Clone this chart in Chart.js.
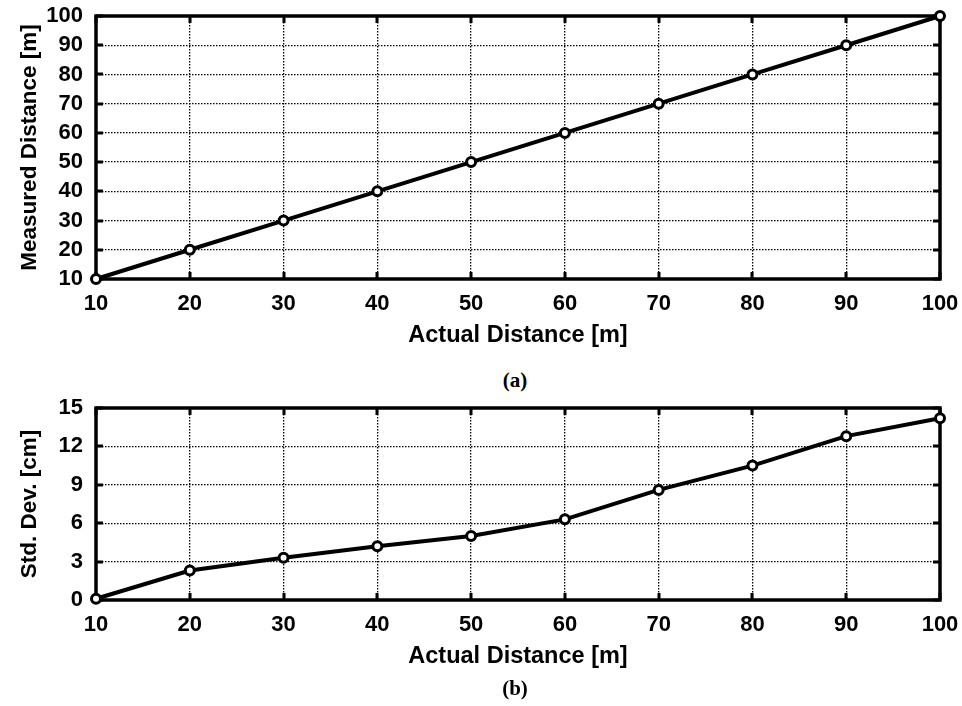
<!DOCTYPE html>
<html>
<head>
<meta charset="utf-8">
<script src="https://cdn.jsdelivr.net/npm/chart.js@4/dist/chart.umd.min.js"></script>
<style>
  html, body { margin: 0; padding: 0; background: #fff; }
  body { width: 962px; height: 706px; position: relative; overflow: hidden; }
  canvas { position: absolute; left: 0; }
  #c1 { top: 0; }
  #c2 { top: 392px; }
  .cap { position: absolute; left: 415px; width: 200px; text-align: center;
         font-family: "Liberation Serif", "DejaVu Serif", serif; font-weight: bold;
         font-size: 21px; line-height: 24px; color: #000; }
</style>
</head>
<body>
<canvas id="c1" width="962" height="359"></canvas>
<div class="cap" style="top:368px">(a)</div>
<canvas id="c2" width="962" height="288"></canvas>
<div class="cap" style="top:676px">(b)</div>
<script>
// ---- data ----
const actualDistance   = [10, 20, 30, 40, 50, 60, 70, 80, 90, 100];
const measuredDistance = [10, 20, 30, 40, 50, 60, 70, 80, 90, 100];
const stdDevCm         = [0.1, 2.3, 3.3, 4.2, 5.0, 6.3, 8.6, 10.5, 12.8, 14.2];
const xTickValues      = [10, 20, 30, 40, 50, 60, 70, 80, 90, 100];
const yTickValuesTop   = [10, 20, 30, 40, 50, 60, 70, 80, 90, 100];
const yTickValuesBot   = [0, 3, 6, 9, 12, 15];
const xTitle = "Actual Distance [m]";
const yTitleTop = "Measured Distance [m]";
const yTitleBot = "Std. Dev. [cm]";

const FONT = "'Liberation Sans', Arial, sans-serif";

const framePlugin = {
  id: 'frame',
  beforeDatasetsDraw(chart) {
    const {ctx, chartArea: a, scales} = chart;
    const L = 7;
    ctx.save();
    ctx.strokeStyle = '#000';
    ctx.lineWidth = 3;
    ctx.beginPath();
    scales.x.ticks.forEach(t => {
      const px = Math.round(scales.x.getPixelForValue(t.value));
      ctx.moveTo(px, a.bottom); ctx.lineTo(px, a.bottom - L);
      ctx.moveTo(px, a.top); ctx.lineTo(px, a.top + L);
    });
    scales.y.ticks.forEach(t => {
      const py = Math.round(scales.y.getPixelForValue(t.value));
      ctx.moveTo(a.left, py); ctx.lineTo(a.left + L, py);
      ctx.moveTo(a.right, py); ctx.lineTo(a.right - L, py);
    });
    ctx.stroke();
    ctx.lineWidth = 3.5;
    ctx.strokeRect(a.left, a.top, a.right - a.left, a.bottom - a.top);
    ctx.restore();
  }
};

function makeChart(id, yData, yTicks, yTitle) {
  return new Chart(document.getElementById(id), {
    type: 'line',
    data: {
      datasets: [{
        data: actualDistance.map((x, i) => ({x: x, y: yData[i]})),
        borderColor: '#000',
        borderWidth: 4,
        pointRadius: 4.5,
        pointBorderWidth: 3,
        pointBackgroundColor: '#fff',
        pointBorderColor: '#000',
        tension: 0,
        clip: false
      }]
    },
    options: {
      responsive: false,
      animation: false,
      devicePixelRatio: 1,
      layout: { padding: { top: 16, right: 22, left: 0, bottom: 0 } },
      plugins: { legend: { display: false }, tooltip: { enabled: false } },
      scales: {
        x: {
          type: 'linear',
          min: xTickValues[0], max: xTickValues[xTickValues.length - 1],
          afterBuildTicks: s => { s.ticks = xTickValues.map(v => ({value: v})); },
          afterFit: s => { s.height = 80; s.paddingLeft = 0; s.paddingRight = 0; },
          grid: { color: '#000', lineWidth: 1.3, drawTicks: false },
          border: { display: false, dash: [1.5, 1.5] },
          ticks: { color: '#000', padding: 12, maxRotation: 0, autoSkip: false,
                   font: { family: FONT, weight: 'bold', size: 22 } },
          title: { display: true, text: xTitle, color: '#000', padding: { top: 0, bottom: 9 },
                   font: { family: FONT, weight: 'bold', size: 23.5, lineHeight: 1.2 } }
        },
        y: {
          type: 'linear',
          min: yTicks[0], max: yTicks[yTicks.length - 1],
          afterBuildTicks: s => { s.ticks = yTicks.map(v => ({value: v})); },
          afterFit: s => { s.width = 96; s.paddingTop = 0; s.paddingBottom = 0; },
          grid: { color: '#000', lineWidth: 1.3, drawTicks: false },
          border: { display: false, dash: [1.5, 1.5] },
          ticks: { color: '#000', padding: 13, autoSkip: false,
                   font: { family: FONT, weight: 'bold', size: 22 } },
          title: { display: true, text: yTitle, color: '#000', padding: { top: 16, bottom: 0 },
                   font: { family: FONT, weight: 'bold', size: 22.5, lineHeight: 1.2 } }
        }
      }
    },
    plugins: [framePlugin]
  });
}

makeChart('c1', measuredDistance, yTickValuesTop, yTitleTop);
makeChart('c2', stdDevCm, yTickValuesBot, yTitleBot);
</script>
</body>
</html>
